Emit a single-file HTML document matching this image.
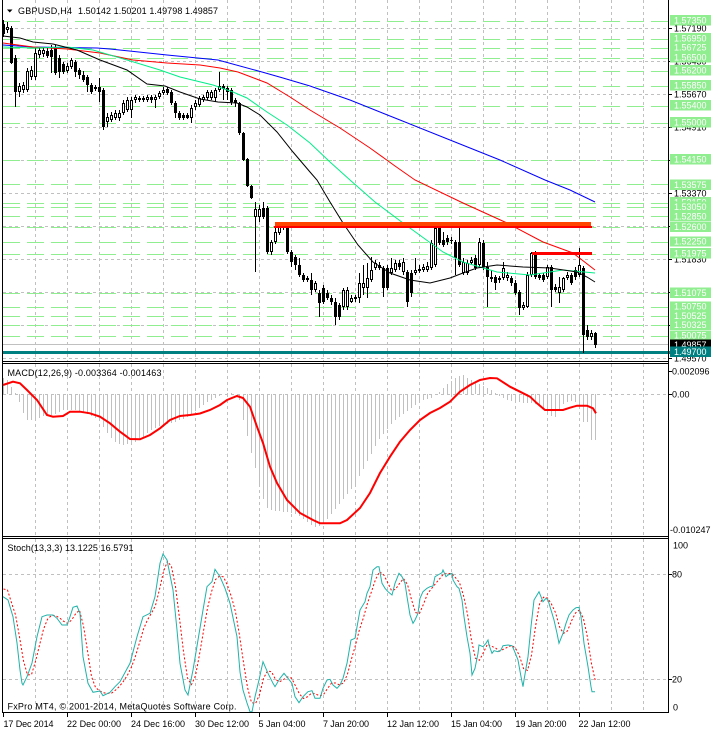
<!DOCTYPE html>
<html><head><meta charset="utf-8">
<style>
html,body{margin:0;padding:0;background:#fff;}
svg{display:block;}
text{font-family:"Liberation Sans",sans-serif;font-size:9px;}
</style></head><body>
<svg id="c" width="711" height="732" viewBox="0 0 711 732" xmlns="http://www.w3.org/2000/svg">
<rect width="711" height="732" fill="#fff"/>
<g id="grid" stroke="#c0c0c0" stroke-width="1" stroke-dasharray="3 3" shape-rendering="crispEdges"></g>
<g id="lev" shape-rendering="crispEdges"></g>
<g id="cand" shape-rendering="crispEdges"></g>
<g id="ma" fill="none" stroke-width="1"></g>
<g id="obj" shape-rendering="crispEdges">
 <rect x="275" y="222" width="316" height="4" fill="#ff4500"/>
 <rect x="274" y="226" width="318" height="2" fill="#ff0000"/>
 <rect x="532" y="252" width="60" height="3" fill="#ff0000"/>
</g>
<g id="macd"></g>
<g id="stoch"></g>
<g id="frame" stroke="#000" stroke-width="1" shape-rendering="crispEdges" fill="none">
 <line x1="2.5" y1="0" x2="2.5" y2="713"/>
 <line x1="668.5" y1="0" x2="668.5" y2="713"/>
 <line x1="2" y1="361.5" x2="669" y2="361.5"/>
 <line x1="2" y1="363.5" x2="669" y2="363.5"/>
 <line x1="2" y1="536.5" x2="669" y2="536.5"/>
 <line x1="2" y1="538.5" x2="669" y2="538.5"/>
 <line x1="2" y1="712.5" x2="669" y2="712.5"/>
 <line x1="3.5" y1="713" x2="3.5" y2="717"/>
 <line x1="67.5" y1="713" x2="67.5" y2="717"/>
 <line x1="131.5" y1="713" x2="131.5" y2="717"/>
 <line x1="195.5" y1="713" x2="195.5" y2="717"/>
 <line x1="259.5" y1="713" x2="259.5" y2="717"/>
 <line x1="323.5" y1="713" x2="323.5" y2="717"/>
 <line x1="387.5" y1="713" x2="387.5" y2="717"/>
 <line x1="451.5" y1="713" x2="451.5" y2="717"/>
 <line x1="515.5" y1="713" x2="515.5" y2="717"/>
 <line x1="579.5" y1="713" x2="579.5" y2="717"/>
 <line x1="669" y1="28.5" x2="672" y2="28.5"/>
 <line x1="669" y1="61.5" x2="672" y2="61.5"/>
 <line x1="669" y1="94.5" x2="672" y2="94.5"/>
 <line x1="669" y1="127.5" x2="672" y2="127.5"/>
 <line x1="669" y1="160.5" x2="672" y2="160.5"/>
 <line x1="669" y1="193.5" x2="672" y2="193.5"/>
 <line x1="669" y1="226.5" x2="672" y2="226.5"/>
 <line x1="669" y1="259.5" x2="672" y2="259.5"/>
 <line x1="669" y1="292.5" x2="672" y2="292.5"/>
 <line x1="669" y1="325.5" x2="672" y2="325.5"/>
 <line x1="669" y1="358.5" x2="672" y2="358.5"/>
 <line x1="669" y1="371.5" x2="672" y2="371.5"/>
 <line x1="669" y1="394.5" x2="672" y2="394.5"/>
 <line x1="669" y1="574.5" x2="672" y2="574.5"/>
 <line x1="669" y1="679.5" x2="672" y2="679.5"/>
</g>
<!-- right price axis (grid labels) -->
<g fill="#000">
 <text x="674" y="31.5">1.57190</text>
 <text x="674" y="64.5">1.56430</text>
 <text x="674" y="97.5">1.55670</text>
 <text x="674" y="130.5">1.54910</text>
 <text x="674" y="163.5">1.54150</text>
 <text x="674" y="196.5">1.53370</text>
 <text x="674" y="229.5">1.52610</text>
 <text x="674" y="262.5">1.51830</text>
 <text x="674" y="295.5">1.51070</text>
 <text x="674" y="328.5">1.50310</text>
 <text x="674" y="361.5">1.49570</text>
</g>
<g shape-rendering="crispEdges">
 <rect x="670" y="15" width="41" height="10.5" fill="#90ee90"/><text x="674" y="23.5" fill="#fff">1.57350</text>
 <rect x="670" y="33" width="41" height="10.5" fill="#90ee90"/><text x="674" y="41.5" fill="#fff">1.56950</text>
 <rect x="670" y="42" width="41" height="10.5" fill="#90ee90"/><text x="674" y="50.5" fill="#fff">1.56725</text>
 <rect x="670" y="52" width="41" height="10.5" fill="#90ee90"/><text x="674" y="60.5" fill="#fff">1.56500</text>
 <rect x="670" y="65" width="41" height="10.5" fill="#90ee90"/><text x="674" y="73.5" fill="#fff">1.56200</text>
 <rect x="670" y="80" width="41" height="10.5" fill="#90ee90"/><text x="674" y="88.5" fill="#fff">1.55850</text>
 <rect x="670" y="100" width="41" height="10.5" fill="#90ee90"/><text x="674" y="108.5" fill="#fff">1.55400</text>
 <rect x="670" y="117" width="41" height="10.5" fill="#90ee90"/><text x="674" y="125.5" fill="#fff">1.55000</text>
 <rect x="670" y="154" width="41" height="10.5" fill="#90ee90"/><text x="674" y="162.5" fill="#fff">1.54150</text>
 <rect x="670" y="179.5" width="41" height="10.5" fill="#90ee90"/><text x="674" y="188" fill="#fff">1.53575</text>
 <rect x="670" y="197" width="41" height="10.5" fill="#90ee90"/><text x="674" y="205.5" fill="#fff">1.53150</text>
 <rect x="670" y="201.5" width="41" height="10.5" fill="#90ee90"/><text x="674" y="210" fill="#fff">1.53050</text>
 <rect x="670" y="211.5" width="41" height="10" fill="#90ee90"/><text x="674" y="219.5" fill="#fff">1.52850</text>
 <rect x="670" y="222" width="41" height="10" fill="#90ee90"/><text x="674" y="230" fill="#fff">1.52600</text>
 <rect x="670" y="236.5" width="41" height="10" fill="#90ee90"/><text x="674" y="244.5" fill="#fff">1.52250</text>
 <rect x="670" y="248" width="41" height="10.5" fill="#90ee90"/><text x="674" y="256.5" fill="#fff">1.51975</text>
 <rect x="670" y="287.5" width="41" height="10.5" fill="#90ee90"/><text x="674" y="296" fill="#fff">1.51075</text>
 <rect x="670" y="301.5" width="41" height="10" fill="#90ee90"/><text x="674" y="309.5" fill="#fff">1.50750</text>
 <rect x="670" y="311" width="41" height="10" fill="#90ee90"/><text x="674" y="319" fill="#fff">1.50525</text>
 <rect x="670" y="320" width="41" height="10" fill="#90ee90"/><text x="674" y="328" fill="#fff">1.50325</text>
 <rect x="670" y="330.5" width="41" height="10" fill="#90ee90"/><text x="674" y="338.5" fill="#fff">1.50075</text>
 <rect x="670" y="339.5" width="41" height="10.5" fill="#000"/><text x="674" y="348" fill="#fff">1.49857</text>
 <rect x="670" y="346.5" width="41" height="10.5" fill="#008080"/><text x="674" y="355" fill="#fff">1.49700</text>
</g>
<!-- indicator axes -->
<g fill="#000">
 <text x="672" y="374.5">0.002096</text>
 <text x="672" y="397.5">0.00</text>
 <text x="670" y="533">-0.010247</text>
 <text x="673" y="548.5">100</text>
 <text x="672" y="577.5">80</text>
 <text x="672" y="682.5">20</text>
 <text x="673" y="710.5">0</text>
</g>
<!-- titles -->
<polygon points="7,9.5 12.5,9.5 9.75,12.5" fill="#000"/>
<text x="18" y="14" fill="#000" textLength="54" lengthAdjust="spacing">GBPUSD,H4</text>
<text x="78" y="14" fill="#000" textLength="140" lengthAdjust="spacing">1.50142 1.50201 1.49798 1.49857</text>
<text x="7.5" y="376" fill="#000" textLength="154" lengthAdjust="spacing">MACD(12,26,9) -0.003364 -0.001463</text>
<text x="7.5" y="551" fill="#000" textLength="126" lengthAdjust="spacing">Stoch(13,3,3) 13.1225 16.5791</text>
<text x="7.5" y="709.5" fill="#000" textLength="229" lengthAdjust="spacing">FxPro MT4, © 2001-2014, MetaQuotes Software Corp.</text>
<!-- time axis -->
<g fill="#000">
 <text x="3.5" y="727" textLength="50" lengthAdjust="spacing">17 Dec 2014</text>
 <text x="67" y="727" textLength="54" lengthAdjust="spacing">22 Dec 00:00</text>
 <text x="131" y="727" textLength="54" lengthAdjust="spacing">24 Dec 16:00</text>
 <text x="195" y="727" textLength="54" lengthAdjust="spacing">30 Dec 12:00</text>
 <text x="258.5" y="727" textLength="47" lengthAdjust="spacing">5 Jan 04:00</text>
 <text x="323" y="727" textLength="46" lengthAdjust="spacing">7 Jan 20:00</text>
 <text x="387" y="727" textLength="52" lengthAdjust="spacing">12 Jan 12:00</text>
 <text x="451" y="727" textLength="51" lengthAdjust="spacing">15 Jan 04:00</text>
 <text x="515.5" y="727" textLength="51" lengthAdjust="spacing">19 Jan 20:00</text>
 <text x="578.5" y="727" textLength="52" lengthAdjust="spacing">22 Jan 12:00</text>
</g>
</svg>
<script>
(function(){
var NS="http://www.w3.org/2000/svg";
function el(tag,a,p){var e=document.createElementNS(NS,tag);for(var k in a)e.setAttribute(k,a[k]);p.appendChild(e);return e;}
function g(id){return document.getElementById(id);}
function interp(P,x){if(x<=P[0][0])return P[0][1];for(var k=1;k<P.length;k++){if(x<=P[k][0]){var x0=P[k-1][0],y0=P[k-1][1],x1=P[k][0],y1=P[k][1];return y0+(y1-y0)*(x-x0)/(x1-x0);}}return P[P.length-1][1];}
function pts(P){return P.map(function(p){return p[0]+","+p[1];}).join(" ");}

/* grid */
var G=g("grid");
[28.5,61.5,94.5,127.5,160.5,193.5,226.5,259.5,292.5,325.5,358.5].forEach(function(y){el("line",{x1:3,y1:y,x2:668,y2:y},G);});
[394.5,574.5,679.5].forEach(function(y){el("line",{x1:3,y1:y,x2:668,y2:y},G);});
for(var k=0;k<20;k++){var x=35.5+32*k;
 el("line",{x1:x,y1:0,x2:x,y2:361},G);
 el("line",{x1:x,y1:364,x2:x,y2:536},G);
 el("line",{x1:x,y1:539,x2:x,y2:712},G);}

/* level lines */
var L=g("lev");
var lv=[1.5735,1.5695,1.56725,1.565,1.562,1.5585,1.554,1.55,1.5415,1.53575,1.5315,1.5305,1.5285,1.526,1.5225,1.51975,1.51075,1.5075,1.50525,1.50325,1.50075];
lv.forEach(function(p){var y=Math.round(21.3+(1.5735-p)*4322)+0.5;
 el("line",{x1:3,y1:y,x2:668,y2:y,stroke:"#90ee90","stroke-width":1,"stroke-dasharray":"17 7"},L);});
el("line",{x1:3,y1:344.5,x2:668,y2:344.5,stroke:"#c0c0c0","stroke-width":1},L);
el("rect",{x:3,y:351,width:667,height:3,fill:"#008080"},L);

/* candles [bodyTop, bodyBottom, wickTop, wickBottom, white] */
var C=[
[24,34,20,37,0],[27,30,22,33,1],[28,63,26,64,0],[58,92,55,107,0],[86,92,83,97,1],
[85,90,82,93,1],[71,90,68,92,1],[70,77,66,80,1],[53,77,48,80,1],[50,55,47,58,1],
[50,54,47,57,1],[51,56,48,58,0],[50,57,45,73,0],[47,73,45,75,0],[58,72,55,78,0],
[64,72,62,74,0],[66,71,63,73,1],[60,67,58,69,1],[62,72,60,77,0],[70,75,68,79,0],
[75,80,71,82,0],[77,85,75,92,0],[85,92,83,94,0],[87,89,85,91,1],[87,92,78,102,0],
[90,127,88,130,0],[117,122,113,127,1],[115,120,112,122,1],[113,118,110,120,1],[113,118,110,121,1],
[103,113,100,115,1],[100,110,97,112,1],[100,110,97,118,1],[97,100,95,103,1],[98,100,96,102,1],
[98,100,96,102,0],[97,100,95,102,1],[97,100,95,103,0],[97,100,95,108,1],[93,97,91,99,1],
[90,93,87,95,1],[89,93,87,95,0],[92,103,90,105,0],[103,113,101,118,0],[113,118,111,120,0],
[115,118,113,120,0],[115,118,113,119,0],[108,118,105,123,1],[103,107,100,110,1],[98,105,96,107,1],
[97,100,95,102,1],[92,98,90,100,1],[92,98,90,100,1],[90,98,88,102,1],[86,90,72,92,1],
[86,89,84,100,0],[88,92,86,100,0],[90,102,88,105,0],[100,103,98,107,0],[103,133,102,135,0],
[133,160,132,161,0],[159,186,158,187,0],[186,198,185,199,0],[209,217,202,272,1],[209,217,205,222,1],
[208,217,202,219,0],[208,252,206,254,0],[242,252,240,255,1],[232,242,222,244,1],[227,233,222,235,1],
[226,228,223,230,1],[227,252,222,254,0],[252,262,250,267,0],[257,265,255,270,0],[265,275,258,277,0],
[275,280,273,282,0],[278,280,276,282,1],[280,290,273,295,0],[283,290,281,292,1],[293,303,290,317,0],
[288,302,285,304,0],[293,298,290,300,0],[298,302,295,305,0],[302,317,298,325,0],[305,317,303,320,0],
[290,307,288,310,1],[290,307,287,310,1],[298,302,295,303,1],[297,299,295,302,1],[283,298,273,303,1],
[283,288,265,295,1],[278,288,263,298,1],[270,280,257,282,1],[263,268,260,270,1],[265,268,262,270,0],
[268,288,266,297,0],[268,288,265,290,0],[268,273,258,275,1],[263,270,260,272,1],[263,267,260,270,0],
[262,272,258,275,1],[272,302,270,307,0],[273,293,270,297,0],[270,273,258,275,1],[269,271,265,273,1],
[267,270,264,272,1],[266,270,262,272,1],[243,268,240,270,1],[228,265,223,267,1],[228,243,226,245,0],
[240,245,232,247,0],[238,242,235,245,0],[240,241,237,244,1],[242,258,240,275,0],[242,265,223,267,0],
[262,273,258,275,1],[263,273,260,275,1],[260,263,257,265,1],[258,268,255,270,0],[242,265,238,267,1],
[243,267,240,270,0],[267,277,262,307,0],[277,279,270,282,1],[277,283,275,290,0],[278,280,276,283,1],
[268,278,262,280,1],[275,278,272,281,1],[278,283,276,286,0],[283,293,280,295,0],[292,308,290,315,0],
[305,308,302,310,1],[275,307,272,308,1],[253,275,252,277,1],[253,277,251,279,0],[275,278,273,280,0],
[275,280,273,282,0],[267,277,265,279,1],[267,290,265,307,0],[287,290,284,292,0],[287,293,277,303,1],
[278,290,277,292,1],[275,278,272,280,1],[275,283,273,285,0],[270,277,267,280,0],[265,275,248,277,1],
[268,335,266,353,0],[330,337,325,340,0],[333,337,330,340,1],[333,345,332,348,0]
];
var CG=g("cand");
C.forEach(function(d,i){var x=3+4*i;
 el("rect",{x:x,y:d[2],width:1,height:Math.max(1,d[3]-d[2]),fill:"#000"},CG);
 var h=Math.max(1,d[1]-d[0]);
 el("rect",{x:x-1,y:d[0],width:3,height:h,fill:"#000"},CG);
 if(d[4]&&h>2)el("rect",{x:x,y:d[0]+1,width:1,height:h-2,fill:"#fff"},CG);
});

/* moving averages */
var M=g("ma");
var blue=[[3,45],[33,47],[97,48],[110,49],[167,55],[218,60],[262,72],[283,78],[310,86],[350,100],[400,120],[450,140],[500,160],[545,180],[570,190],[595,202]];
var red=[[3,43],[33,47],[67,49],[100,53],[133,60],[167,63],[200,65],[220,68],[238,72],[267,83],[290,97],[310,110],[340,128],[370,148],[395,166],[415,180],[463,203],[507,223],[543,242],[573,253],[595,270]];
var green=[[3,47],[33,48],[67,47],[93,50],[127,60],[160,70],[180,77],[213,85],[233,92],[247,98],[267,112],[287,125],[310,143],[330,162],[350,180],[375,202],[403,223],[443,252],[463,262],[497,272],[530,275],[563,270],[595,273]];
var black=[[3,36],[20,38],[33,42],[53,44],[77,50],[100,60],[127,70],[147,84],[165,86],[180,92],[200,99],[218,102],[237,103],[247,107],[260,115],[277,132],[293,152],[310,172],[317,180],[330,202],[343,223],[358,245],[373,262],[390,273],[410,280],[430,283],[450,278],[463,273],[477,268],[497,265],[523,267],[550,268],[577,272],[587,277],[595,282]];
el("polyline",{points:pts(blue),stroke:"#0000ff"},M);
el("polyline",{points:pts(red),stroke:"#ff0000"},M);
el("polyline",{points:pts(green),stroke:"#00ee88"},M);
el("polyline",{points:pts(black),stroke:"#000000"},M);

/* MACD */
var MG=g("macd");
var H=[[3,378],[7,379],[11,386],[15,392],[19,400],[23,412],[27,420],[35,420],[43,416],[55,414],[63,410],[75,410],[87,414],[99,420],[107,432],[115,442],[123,445],[135,442],[143,438],[151,430],[163,425],[175,422],[187,418],[195,412],[203,405],[211,400],[219,396],[227,393],[235,393],[239,396],[243,417],[247,433],[251,450],[255,465],[259,483],[263,497],[267,507],[271,510],[287,512],[299,515],[307,522],[315,527],[323,525],[331,515],[339,505],[347,495],[355,485],[363,470],[371,455],[379,440],[387,430],[395,420],[407,412],[419,402],[431,398],[439,393],[447,385],[455,378],[463,375],[471,380],[479,384],[487,388],[495,392],[503,398],[515,402],[527,403],[539,404],[547,412],[555,418],[563,404],[571,401],[579,402],[583,423],[587,418],[591,440],[595,440]];
for(var i=0;i<149;i++){var x=3.5+4*i;var y=interp(H,x+0.2);
 el("line",{x1:x,y1:394,x2:x,y2:Math.round(y),stroke:"#c0c0c0","stroke-width":1,"shape-rendering":"crispEdges"},MG);}
var SIG=[[3,385],[13,381.7],[20,383.3],[27,390],[37,400],[47,415],[53,416.7],[63,416],[70,411.7],[80,411.7],[90,413.3],[100,416.7],[110,423.3],[120,431.7],[130,439],[140,439.3],[150,435],[160,428.3],[170,420],[180,416],[190,415],[200,413.5],[210,410],[220,405],[227,400],[237,396],[243,398],[250,406.7],[257,426.7],[263,443],[270,466.7],[277,483],[287,500],[300,513],[313,520],[320,523.3],[340,523.3],[347,520],[360,508],[370,493],[380,473],[390,456.7],[400,441.7],[410,430],[420,420],[430,413],[440,408],[450,401.7],[460,391.7],[470,385],[480,380],[490,378],[497,378.3],[510,386.7],[520,391.7],[530,396.7],[537,403.3],[545,410],[557,410],[563,410],[570,407.7],[577,405.7],[587,405.7],[593,408.3],[596,413.3]];
el("polyline",{points:pts(SIG),fill:"none",stroke:"#ff0000","stroke-width":2},MG);

/* Stochastic */
var SG=g("stoch");
var S=[[3,596.7],[8,600],[13,616.7],[17,643],[20,670],[22,683.3],[23,685],[27,676.7],[32,663],[37,636.7],[42,616.7],[47,615],[53,615],[57,618.3],[62,625],[67,625],[70,616.7],[73,607.3],[77,606],[80,613.3],[83,656.7],[88,683.3],[93,692.3],[100,691],[103,695.7],[110,692.3],[115,686.7],[120,681.7],[130,663.3],[137,636.7],[143,616.7],[150,613.3],[155,596.7],[160,563.3],[163,554],[167,560],[173,590],[177,630],[180,663.3],[185,690],[188,695],[193,670],[198,640],[203,610],[207,586.7],[212,581.7],[215,569.3],[220,576.7],[225,588.3],[230,603.3],[237,636.7],[240,672],[243,690],[247,703],[250,711.7],[252,711.7],[255,696.7],[259,680],[263,661.7],[268,673.3],[273,683.3],[275,686.7],[280,678.3],[284,673.3],[288,678.3],[292,683.3],[295,696.7],[299,702.7],[303,696.7],[308,691.7],[312,690.7],[315,698.3],[320,698.3],[323,688.3],[327,680],[330,679.3],[333,685],[337,688.3],[340,685],[343,678.3],[347,663.3],[351,640],[355,638.3],[360,610],[365,601.7],[367,593.3],[370,586.7],[373,570],[377,566.7],[379,566.7],[382,583.3],[385,588.3],[388,591.7],[392,595],[395,583.3],[399,573.3],[402,576.7],[405,583.3],[407,596.7],[410,615],[413,623.3],[415,620],[418,613.3],[420,598.3],[423,591.7],[427,588.3],[430,586.7],[433,586],[435,576.7],[438,575],[442,572.7],[443,570],[446,576.7],[448,575],[452,573.3],[453,580],[457,586.7],[459,588.3],[462,600],[464,616.7],[467,636.7],[470,653.3],[472,675],[475,668.3],[478,653.3],[479,645],[483,646.7],[486,643.3],[488,640],[489,645],[492,653.3],[494,650.7],[498,651.7],[501,650],[503,645.7],[508,645],[512,645.7],[514,650],[518,660],[521,676.7],[523,686.7],[524,680],[528,656.7],[531,626.7],[534,600],[539,591.7],[543,601.7],[546,598.3],[548,600],[551,610],[554,620],[557,633.3],[559,643.3],[563,633.3],[566,623.3],[569,615],[573,610],[576,607.7],[579,607.3],[581,616.7],[584,643.3],[588,666.7],[591,686.7],[592,691.7],[595,691.7]];
var samp=[];for(var i=0;i<149;i++){samp.push(interp(S,3.5+4*i));}
var sig=[];for(var i=0;i<149;i++){var a=samp[Math.max(0,i-2)],b=samp[Math.max(0,i-1)],c=samp[i];var v=(a+b+c)/3;if(i<2)v-=8;sig.push([3.5+4*i,v.toFixed(1)]);}
el("polyline",{points:pts(sig),fill:"none",stroke:"#ff0000","stroke-width":1,"stroke-dasharray":"2 2"},SG);
el("polyline",{points:pts(S),fill:"none",stroke:"#20b2aa","stroke-width":1},SG);
})();
</script>
</body></html>
